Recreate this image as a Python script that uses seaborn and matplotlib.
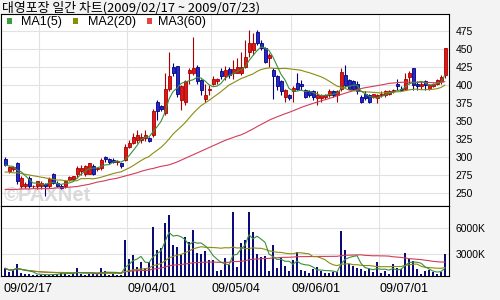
import numpy as np
import pandas as pd
import matplotlib
matplotlib.use("Agg")
import matplotlib.pyplot as plt
from matplotlib.patches import Rectangle
import seaborn as sns

sns.set_theme(style="white")
plt.rcParams['font.family'] = ['Liberation Sans', 'Noto Sans CJK KR', 'DejaVu Sans']
plt.rcParams['patch.force_edgecolor'] = False

title = "대영포장 일간 차트(2009/02/17 ~ 2009/07/23)"
legend_labels = ["MA1(5)", "MA2(20)", "MA3(60)"]
date_labels = ["09/02/17", "09/04/01", "09/05/04", "09/06/01", "09/07/01"]
date_idx = [0, 31, 52, 72, 94]
grid_idx = [9, 31, 52, 72, 94]
price_ticks = [250, 275, 300, 325, 350, 375, 400, 425, 450, 475]
vol_ticks = [3000, 6000]
vol_tick_labels = ["3000K", "6000K"]

open_ = [297, 281, 283, 291, 259, 259, 271, 259, 259, 260, 262, 259, 276, 264, 260, 259, 268, 270, 277, 280,
         276, 277, 288, 283, 284, 300, 297, 296, 293, 291, 296, 314, 320, 323, 324, 326, 326, 330, 377, 371,
         361, 394, 425, 426, 379, 377, 416, 416, 425, 407, 381, 393, 402, 405, 419, 412, 422, 416, 417, 416,
         425, 446, 449, 474, 458, 451, 437, 421, 412, 405, 384, 386, 391, 403, 402, 393, 391, 391, 382, 382,
         383, 386, 392, 386, 395, 414, 407, 405, 402, 384, 388, 386, 384, 382, 386, 386, 388, 391, 402, 395,
         395, 411, 423, 402, 398, 405, 395, 399, 402, 405, 414]
high = [300, 287, 288, 293, 273, 265, 273, 261, 267, 266, 264, 272, 278, 266, 262, 268, 273, 274, 287, 289,
        289, 292, 290, 286, 298, 302, 298, 298, 296, 292, 318, 324, 333, 337, 333, 337, 328, 366, 379, 372,
        416, 446, 430, 427, 400, 407, 423, 467, 428, 409, 402, 400, 412, 410, 423, 427, 425, 435, 437, 446,
        463, 476, 472, 476, 463, 453, 444, 423, 414, 407, 395, 388, 398, 416, 407, 395, 393, 393, 391, 388,
        388, 394, 393, 393, 424, 428, 409, 407, 405, 386, 391, 388, 388, 388, 391, 393, 393, 395, 409, 398,
        416, 419, 424, 405, 405, 407, 402, 403, 409, 414, 452]
low = [287, 278, 280, 262, 257, 257, 257, 257, 256, 255, 246, 257, 262, 258, 256, 257, 266, 268, 271, 275,
       274, 276, 275, 280, 282, 293, 290, 291, 289, 285, 294, 312, 318, 319, 320, 322, 321, 328, 351, 364,
       358, 391, 412, 384, 365, 372, 402, 414, 402, 386, 377, 386, 400, 402, 409, 407, 410, 409, 416, 414,
       423, 439, 442, 456, 449, 430, 425, 381, 393, 386, 377, 379, 377, 393, 393, 382, 384, 379, 372, 377,
       381, 384, 384, 377, 391, 397, 394, 393, 388, 375, 379, 375, 382, 375, 384, 384, 386, 389, 393, 391,
       393, 402, 393, 393, 395, 393, 393, 397, 400, 402, 410]
close = [289, 286, 286, 266, 271, 263, 259, 260, 266, 264, 260, 269, 264, 259, 257, 267, 272, 273, 284, 284,
         287, 291, 277, 284, 296, 297, 293, 293, 294, 287, 314, 320, 328, 330, 328, 331, 322, 364, 364, 366,
         395, 413, 416, 388, 398, 406, 421, 423, 405, 393, 386, 395, 409, 409, 412, 421, 414, 422, 425, 425,
         439, 458, 458, 458, 451, 432, 441, 412, 398, 391, 393, 382, 396, 395, 398, 384, 386, 384, 386, 386,
         386, 392, 386, 391, 418, 400, 395, 395, 391, 377, 382, 377, 387, 386, 388, 391, 391, 393, 398, 393,
         409, 416, 400, 398, 402, 400, 400, 402, 407, 411, 451]
volume_k = [1330, 935, 1130, 1830, 820, 700, 650, 600, 550, 600, 550, 600, 700, 650, 935, 700, 600, 650, 1330, 700,
            600, 650, 700, 650, 1330, 1050, 600, 650, 600, 550, 4630, 2415, 2880, 1520, 2100, 1330, 2100, 6185, 3465, 3660,
            6650, 7550, 4050, 3855, 2880, 5020, 4435, 5800, 3150, 2960, 3385, 2300, 2300, 1015, 1130, 2495, 1715, 7865, 1520, 4245,
            4630, 7865, 5530, 3000, 2610, 2765, 1050, 4050, 1330, 2690, 1600, 1050, 2300, 3195, 1130, 1015, 820, 1210, 1520, 1050,
            745, 745, 935, 935, 5680, 3465, 1830, 1600, 1400, 1210, 1015, 1210, 935, 2100, 820, 1050, 665, 1830, 1330, 1210,
            3150, 2380, 2220, 1210, 665, 1050, 1130, 935, 665, 935, 3000]
# moving-average values before a full window exists
ma20_head = [279, 279, 278, 278, 277, 276, 275, 274, 273, 272, 271, 270, 269, 268, 268, 267, 267, 267, 267]
ma60_head = [255, 255, 255, 255, 255.5, 255.5, 255.5, 256, 256, 256, 256,
             256, 256.5, 257, 257, 257.5, 258, 258.5, 259,
             260, 261, 262, 263.5, 265, 266, 267, 268.5, 269.5, 270.5,
             272, 273.5, 275, 276.5, 278, 280, 281.5, 283, 284, 285.5, 287, 288,
             289, 291, 293, 295.5, 298, 300.5, 303, 305.5, 308, 310.5, 313, 315.5, 318, 320.5, 323, 325, 327, 329]

n = len(close)
idx = np.arange(n)
o = np.array(open_, float); c = np.array(close, float)
h = np.array(high, float); l = np.array(low, float)
cs = pd.Series(c)
ma5 = cs.rolling(5, min_periods=1).mean().values
ma20 = cs.rolling(20).mean().values
ma20[:len(ma20_head)] = ma20_head
ma60 = cs.rolling(60).mean().values
ma60[:len(ma60_head)] = ma60_head
vs = pd.Series(volume_k, dtype=float)
vma5 = vs.rolling(5, min_periods=1).mean().values
vma20 = vs.rolling(20, min_periods=1).mean().values
vma60 = vs.rolling(60, min_periods=1).mean().values

c_green, c_olive, c_red = "#3a8f3a", "#8c8c10", "#d23c5a"
leg_cols = ["#3c9c3c", "#8c8c00", "#e04444"]

W, H = 500, 300
fig = plt.figure(figsize=(5, 3), dpi=100)
fig.patch.set_facecolor("#f3f3f3")
L, R = 1, 449
ax_p = fig.add_axes([L / W, 1 - 206 / H, (R - L) / W, 192 / H])
ax_v = fig.add_axes([L / W, 1 - 276 / H, (R - L) / W, 70 / H], sharex=ax_p)

for ax in (ax_p, ax_v):
    ax.set_facecolor("white")
    for s in ax.spines.values():
        s.set_color("black"); s.set_linewidth(0.8)
    for g in grid_idx:
        ax.axvline(g - 0.5, color="#e2e2e2", lw=0.8, zorder=0)
    ax.yaxis.tick_right()
    ax.tick_params(axis="y", length=0, pad=4.5, labelsize=7.5, colors="black")

ax_p.set_xlim(-1, 111)
ax_p.set_ylim(231.9, 498.6)
ax_p.set_yticks(price_ticks)
ax_p.set_yticklabels([str(t) for t in price_ticks])
for t in price_ticks:
    ax_p.axhline(t, color="#e2e2e2", lw=0.8, zorder=0)

ax_p.text(0.005, 0.055, "©PAXNet", transform=ax_p.transAxes, fontsize=14.5, fontweight="bold",
          color="#dadada", va="center", ha="left", zorder=0.5)

up = c >= o
edge = np.where(up, "#a80000", "#000080")
fill = np.where(up, "#e01818", "#2828c8")
ax_p.vlines(idx, l, h, colors=edge, lw=0.8, zorder=2)
body = np.maximum(np.abs(c - o), 0.9)
ax_p.bar(idx, body, bottom=np.minimum(o, c), width=0.75, color=fill, edgecolor=edge, lw=0.6, zorder=3)

sns.lineplot(x=idx, y=ma60, ax=ax_p, color=c_red, lw=0.8, zorder=4)
sns.lineplot(x=idx, y=ma20, ax=ax_p, color=c_olive, lw=0.8, zorder=4)
sns.lineplot(x=idx, y=ma5, ax=ax_p, color=c_green, lw=0.8, zorder=4)
ax_p.set_xlabel(""); ax_p.set_ylabel("")
ax_p.tick_params(axis="x", length=0, labelbottom=False)

ax_v.set_ylim(430, 8570)
ax_v.set_yticks(vol_ticks)
ax_v.set_yticklabels(vol_tick_labels)
for t in vol_ticks:
    ax_v.axhline(t, color="#e2e2e2", lw=0.8, zorder=0)
ax_v.bar(idx, volume_k, width=0.72, color="#0c0c78", edgecolor="none", lw=0, zorder=2)
sns.lineplot(x=idx, y=vma60, ax=ax_v, color=c_red, lw=0.8, zorder=4)
sns.lineplot(x=idx, y=vma20, ax=ax_v, color=c_olive, lw=0.8, zorder=4)
sns.lineplot(x=idx, y=vma5, ax=ax_v, color=c_green, lw=0.8, zorder=4)
ax_v.set_xlabel(""); ax_v.set_ylabel("")
ax_v.set_xticks([d - 0.5 for d in date_idx])
ax_v.set_xticklabels(date_labels, ha="left", fontsize=9)
ax_v.tick_params(axis="x", length=0, pad=5, colors="black")

fig.text(2 / W, 1 - 7.5 / H, title, fontsize=9.3, family=["Noto Sans CJK KR", "DejaVu Sans"],
         va="center", ha="left", color="black")

sq_x = [6.7, 72.7, 146.7]
tx_x = [21.5, 88, 158]
for sx, tx, lab, col in zip(sq_x, tx_x, legend_labels, leg_cols):
    fig.add_artist(Rectangle((sx / W, 1 - 24 / H), 5.7 / W, 5.7 / H, transform=fig.transFigure,
                             facecolor=col, edgecolor="none", zorder=10))
    fig.text(tx / W, 1 - 21.5 / H, lab, fontsize=9, va="center", ha="left", color="black", zorder=10)

fig.savefig("out.png", dpi=100, facecolor=fig.get_facecolor())
